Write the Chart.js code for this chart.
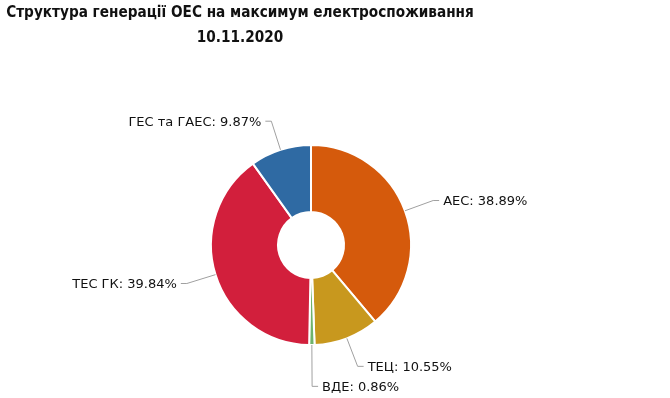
<!DOCTYPE html>
<html>
<head>
<meta charset="utf-8">
<script src="https://cdn.jsdelivr.net/npm/chart.js@4"></script>
<style>
  body { margin: 0; background: #fff; }
  #wrap { position: relative; width: 670px; height: 398px; }
  #title {
    position: absolute; left: -60px; top: -1px; width: 600px;
    text-align: center; white-space: nowrap;
    font: bold 16.5px "DejaVu Sans Condensed", "DejaVu Sans", sans-serif;
    line-height: 25px; color: #111;
    transform: scaleX(0.92); transform-origin: 300px 0;
  }
</style>
</head>
<body>
<div id="wrap">
  <canvas id="genChart" width="670" height="398"></canvas>
  <div id="title">Структура генерації ОЕС на максимум електроспоживання<br>10.11.2020</div>
</div>
<script>
// Generation structure, share in %
const categories = ['АЕС', 'ТЕЦ', 'ВДЕ', 'ТЕС ГК', 'ГЕС та ГАЕС'];
const shares = [38.89, 10.55, 0.86, 39.84, 9.87];
const sliceColors = ['#d55a0c', '#c8981e', '#6fb36b', '#d21f3c', '#2f6aa3'];

// Draws "name: value%" labels with elbow connectors, Highcharts style
const sliceLabels = {
    id: 'sliceLabels',
    afterDraw(chart) {
        const ctx = chart.ctx;
        const meta = chart.getDatasetMeta(0);
        const dist = 30;
        const items = meta.data.map((arc, i) => {
            const mid = (arc.startAngle + arc.endAngle) / 2;
            const r = arc.outerRadius;
            const c = Math.cos(mid), s = Math.sin(mid);
            return {
                i: i,
                px: arc.x + c * r, py: arc.y + s * r,
                ex: arc.x + c * (r + dist), ey: arc.y + s * (r + dist),
                dir: c >= 0 ? 1 : -1
            };
        });

        // push overlapping labels apart on each side
        [1, -1].forEach(side => {
            const list = items.filter(it => it.dir === side).sort((a, b) => a.ey - b.ey);
            for (let k = 1; k < list.length; k++) {
                if (list[k].ey - list[k - 1].ey < 20) list[k].ey = list[k - 1].ey + 20;
            }
        });

        ctx.save();
        ctx.font = '13px "DejaVu Sans", sans-serif';
        ctx.textBaseline = 'middle';
        items.forEach(it => {
            ctx.strokeStyle = '#a0a0a0';
            ctx.lineWidth = 1;
            ctx.beginPath();
            ctx.moveTo(it.px, it.py);
            ctx.lineTo(it.ex, it.ey);
            ctx.lineTo(it.ex + 6 * it.dir, it.ey);
            ctx.stroke();

            ctx.fillStyle = '#111';
            ctx.textAlign = it.dir > 0 ? 'left' : 'right';
            const text = categories[it.i] + ': ' + shares[it.i].toFixed(2) + '%';
            ctx.fillText(text, it.ex + 10 * it.dir, it.ey + 1);
        });
        ctx.restore();
    }
};

const ctx = document.getElementById('genChart').getContext('2d');
const genChart = new Chart(ctx, {
    type: 'doughnut',
    data: {
        labels: categories,
        datasets: [{
            data: shares,
            backgroundColor: sliceColors,
            borderColor: '#ffffff',
            borderWidth: 2
        }]
    },
    options: {
        responsive: false,
        animation: false,
        cutout: '33%',
        layout: {
            padding: { left: 210, right: 258, top: 144, bottom: 52 }
        },
        plugins: {
            legend: { display: false },
            tooltip: { enabled: false },
            title: { display: false }
        },
        events: []
    },
    plugins: [sliceLabels]
});
</script>
</body>
</html>
